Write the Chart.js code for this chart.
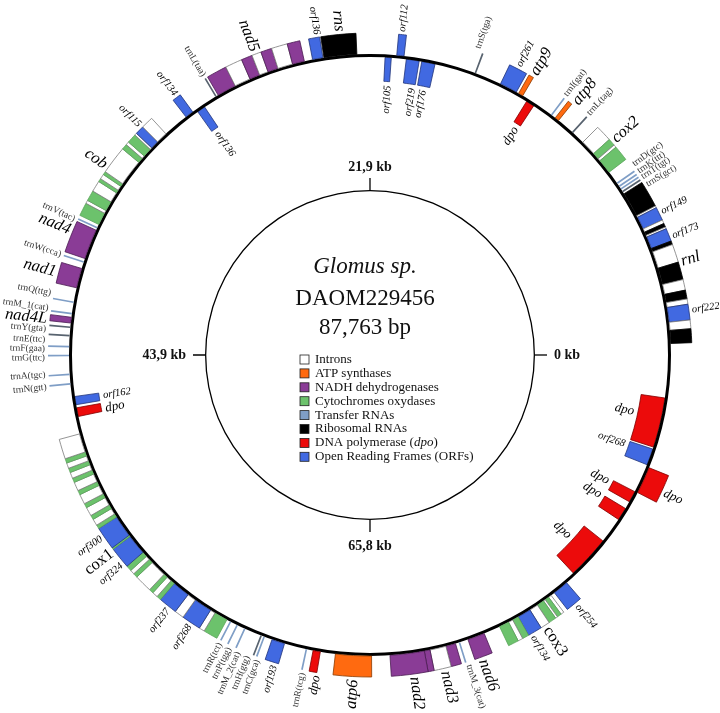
<!DOCTYPE html>
<html>
<head>
<meta charset="utf-8">
<script src="https://cdn.jsdelivr.net/npm/chart.js@4.4.0/dist/chart.umd.min.js"></script>
<style>
  html, body { margin: 0; padding: 0; background: #fff; }
  #wrap { position: relative; width: 720px; height: 713px; }
</style>
</head>
<body>
<div id="wrap"><canvas id="map"></canvas></div>
<script>
// Circular map of the Glomus sp. DAOM229456 mitochondrial genome
// positions in bp, counted counter-clockwise from the right (0 kb)

const GENOME_LENGTH = 87763;

// features drawn outside the ring: [start, end, kind]
const outerSegments = [
  [534, 1143, 'rrna'], [1143, 1524, 'intron'], [1524, 2214, 'orf'], [2214, 2445, 'intron'],
  [2445, 2835, 'rrna'], [2835, 3303, 'intron'], [3303, 4088, 'rrna'], [4088, 4890, 'intron'],
  [4890, 5054, 'rrna'], [5054, 5629, 'orf'], [5629, 5712, 'intron'], [5712, 5878, 'rrna'],
  [5878, 6043, 'intron'], [6043, 6638, 'orf'], [6638, 6724, 'intron'], [6724, 7899, 'rrna'],
  [7985, 8060, 'trnaDark'], [8130, 8205, 'trna'], [8275, 8350, 'trna'], [8445, 8520, 'trna'],
  [9118, 9800, 'cox'], [9800, 9922, 'intron'], [9922, 10239, 'cox'], [10239, 10970, 'intron'],
  [11590, 11665, 'trnaDark'], [12482, 12677, 'atp'], [12860, 12935, 'trna'],
  [14505, 14725, 'atp'], [14847, 15675, 'orf'], [16905, 16980, 'trnaDark'],
  [20356, 20697, 'orf'], [22550, 24086, 'rrna'], [24135, 24622, 'orf'],
  [25012, 25573, 'nad'], [25573, 26280, 'intron'], [26280, 26768, 'nad'], [26768, 27182, 'intron'],
  [27182, 27670, 'nad'], [27670, 28425, 'intron'], [28425, 29327, 'nad'],
  [29410, 29485, 'trnaDark'], [30742, 31132, 'orf'],
  [32350, 32887, 'intron'], [32887, 33277, 'orf'], [33277, 33374, 'intron'], [33374, 33789, 'cox'],
  [33789, 33935, 'intron'], [33935, 34179, 'cox'], [34179, 35423, 'intron'], [35423, 35569, 'cox'],
  [35569, 35788, 'intron'], [35788, 35934, 'cox'], [35934, 36422, 'intron'], [36422, 36885, 'cox'],
  [36885, 37031, 'intron'], [37031, 37616, 'cox'],
  [37750, 37825, 'trna'], [37909, 39323, 'nad'], [39455, 39530, 'trna'], [39810, 40737, 'nad'],
  [41380, 41455, 'trna'], [41920, 41995, 'trna'], [42126, 42394, 'nad'],
  [42555, 42630, 'trnaDark'], [42945, 43020, 'trnaDark'], [43455, 43530, 'trna'],
  [43870, 43945, 'trna'], [44745, 44820, 'trna'], [45185, 45260, 'trna'],
  [47587, 48465, 'intron'], [48465, 48660, 'cox'], [48660, 48904, 'intron'], [48904, 49099, 'cox'],
  [49099, 49367, 'intron'], [49367, 49562, 'cox'], [49562, 49952, 'intron'], [49952, 50147, 'cox'],
  [50147, 50586, 'intron'], [50586, 50781, 'cox'], [50781, 51171, 'intron'], [51171, 51366, 'cox'],
  [51366, 51658, 'intron'], [51658, 51829, 'cox'], [51829, 52853, 'orf'], [52853, 52926, 'cox'],
  [52926, 53877, 'orf'], [53877, 54121, 'cox'], [54121, 54316, 'intron'], [54316, 54510, 'cox'],
  [54510, 55291, 'intron'], [55291, 55486, 'cox'], [55486, 55730, 'intron'], [55730, 55925, 'cox'],
  [55925, 56753, 'orf'], [56753, 57168, 'intron'], [57168, 58021, 'orf'], [58021, 58265, 'intron'],
  [58265, 58899, 'cox'],
  [59055, 59130, 'trna'], [59400, 59475, 'trna'], [59790, 59865, 'trna'],
  [60615, 60690, 'trnaDark'], [60765, 60840, 'trna'],
  [61190, 61800, 'orf'], [62810, 62885, 'trna'], [63165, 63506, 'dpo'], [64213, 65895, 'atp'],
  [66749, 68357, 'nad'], [68357, 68626, 'nad'], [68626, 69382, 'intron'], [69382, 69845, 'nad'],
  [70000, 70075, 'trna'], [70454, 71259, 'nad'],
  [72039, 72503, 'cox'], [72503, 72722, 'intron'], [72722, 73014, 'cox'], [73014, 73648, 'orf'],
  [73648, 74062, 'intron'], [74062, 74404, 'cox'], [74404, 74501, 'intron'], [74501, 74696, 'cox'],
  [74696, 74842, 'intron'],
  [75037, 75769, 'orf'], [81132, 82400, 'dpo']
];

// features drawn inside the ring
const innerSegments = [
  [13823, 14213, 'dpo'], [18869, 19503, 'orf'], [19625, 20234, 'orf'], [20941, 21234, 'orf'],
  [30156, 30546, 'orf'], [45832, 46222, 'orf'], [46368, 46783, 'dpo'],
  [76305, 78353, 'dpo'], [79596, 80206, 'dpo'], [80571, 81108, 'dpo'],
  [82497, 83277, 'orf'], [83375, 85741, 'dpo']
];

// [label, position]
const outerLabels = [
  ['orf222', 1950], ['rnl', 4071], ['orf173', 5241], ['orf149', 6387],
  ['trnS(gct)', 7704], ['trnT(tgt)', 8094], ['trnK(ttt)', 8386], ['trnD(gtc)', 8752],
  ['cox2', 10093], ['trnL(tag)', 11653], ['atp8', 12384], ['trnI(gat)', 12921],
  ['atp9', 14554], ['orf261', 15285], ['trnS(tga)', 17211], ['orf112', 20551],
  ['rns', 23257], ['orf136', 24232], ['nad5', 27012], ['trnL(taa)', 29449],
  ['orf134', 30912], ['orf115', 32936], ['cob', 35203], ['trnV(tac)', 37860],
  ['nad4', 38372], ['trnW(cca)', 39493], ['nad1', 40273], ['trnQ(ttg)', 41200],
  ['trnM_1(cat)', 41858], ['nad4L', 42321], ['trnY(gta)', 42760], ['trnE(ttc)', 43223],
  ['trnF(gaa)', 43614], ['trnG(ttc)', 44003], ['trnA(tgc)', 44735], ['trnN(gtt)', 45271],
  ['orf300', 52243], ['cox1', 53000], ['orf324', 53682], ['orf237', 56461], ['orf268', 57607],
  ['trnR(tct)', 59118], ['trnP(tgg)', 59557], ['trnM_2(cat)', 59996], ['trnH(gtg)', 60435],
  ['trnC(gca)', 60874], ['orf193', 61654], ['trnR(tcg)', 62897], ['dpo', 63506],
  ['atp6', 65091], ['nad2', 67748], ['nad3', 69089], ['trnM_3(cat)', 70137], ['nad6', 70771],
  ['orf134', 73163], ['cox3', 73843], ['orf254', 75476], ['dpo', 81644]
];

const innerLabels = [
  ['dpo', 13969], ['orf176', 19162], ['orf219', 19747], ['orf105', 21014],
  ['orf136', 30351], ['orf162', 45978], ['dpo', 46661], ['dpo', 77451],
  ['dpo', 80133], ['dpo', 80963], ['orf268', 83058], ['dpo', 84813]
];

const tickPositions = [0, 21941, 43882, 65822];
const tickLabels = ['0 kb', '21,9 kb', '43,9 kb', '65,8 kb'];

const titleLines = ['Glomus sp.', 'DAOM229456', '87,763 bp'];

const legendKinds = ['intron', 'atp', 'nad', 'cox', 'trna', 'rrna', 'dpo', 'orf'];
const legendLabels = ['Introns', 'ATP synthases', 'NADH dehydrogenases', 'Cytochromes oxydases',
  'Transfer RNAs', 'Ribosomal RNAs', 'DNA polymerase (dpo)', 'Open Reading Frames (ORFs)'];

// colours per feature kind
const fillOf = {
  intron: '#ffffff', atp: '#ff6a10', nad: '#8a3c96', cox: '#6cc26c',
  trna: '#7f9ec6', trnaDark: '#58636f', rrna: '#000000', dpo: '#ec0b0b', orf: '#4169e1'
};
const edgeOf = {
  intron: '#7a7a7a', atp: '#8a3a00', nad: '#4a1a52', cox: '#5aa55a',
  trna: '#7f9ec6', trnaDark: '#58636f', rrna: '#000000', dpo: '#800000', orf: '#22357a'
};

const FONT = '"Liberation Serif", "Times New Roman", serif';

function ringData(segments) {
  const sorted = segments.slice().sort((a, b) => b[0] - a[0]);
  const values = [], kinds = [];
  let pos = GENOME_LENGTH;
  sorted.forEach(([start, end, kind]) => {
    if (pos - end > 0) { values.push(pos - end); kinds.push(null); }
    values.push(end - start); kinds.push(kind);
    pos = start;
  });
  if (pos > 0) { values.push(pos); kinds.push(null); }
  return {
    data: values,
    backgroundColor: kinds.map(k => k ? fillOf[k] : 'rgba(0,0,0,0)'),
    borderColor: kinds.map(k => k ? edgeOf[k] : 'rgba(0,0,0,0)'),
    borderWidth: kinds.map(k => (k && !k.startsWith('trna')) ? 0.8 : 0)
  };
}

function labelFont(text) {
  if (text.startsWith('trn')) return `9.5px ${FONT}`;
  if (text.startsWith('orf')) return `italic 10.5px ${FONT}`;
  if (text === 'dpo') return `italic 13px ${FONT}`;
  if (text === 'cox1' || text === 'cox3') return `16.5px ${FONT}`;
  return `italic 16.5px ${FONT}`;
}

// text written along the radius, kept upright on both halves of the map
function radialText(ctx, text, a, r, cx, cy, outside) {
  const right = Math.cos(a) > 0;
  ctx.save();
  ctx.translate(cx + r * Math.cos(a), cy + r * Math.sin(a));
  ctx.rotate(right ? a : a + Math.PI);
  ctx.font = labelFont(text);
  ctx.fillStyle = text.startsWith('trn') ? '#333' : '#000';
  if (outside) ctx.textAlign = right ? 'left' : 'right';
  else ctx.textAlign = right ? 'right' : 'left';
  ctx.textBaseline = 'middle';
  ctx.fillText(text, 0, 0);
  ctx.restore();
}

const genomeText = {
  id: 'genomeText',
  afterDraw(chart) {
    const ctx = chart.ctx;
    const first = chart.getDatasetMeta(0).data[0];
    const cx = first.x, cy = first.y;
    const start = first.startAngle;
    const angleAt = p => start + (GENOME_LENGTH - p) / GENOME_LENGTH * 2 * Math.PI;
    const rOut = first.outerRadius;
    const rIn = chart.getDatasetMeta(2).data[0].innerRadius;
    const rCircle = chart.getDatasetMeta(4).data[0].outerRadius;

    outerLabels.forEach(([t, p]) => radialText(ctx, t, angleAt(p), rOut + 3, cx, cy, true));
    innerLabels.forEach(([t, p]) => radialText(ctx, t, angleAt(p), rIn - 4, cx, cy, false));

    // kb ticks on the inner circle
    ctx.save();
    ctx.strokeStyle = '#000';
    ctx.lineWidth = 1.3;
    ctx.fillStyle = '#111';
    ctx.font = `bold 14px ${FONT}`;
    tickPositions.forEach((p, i) => {
      const a = angleAt(p), c = Math.cos(a), s = Math.sin(a);
      ctx.beginPath();
      ctx.moveTo(cx + rCircle * c, cy + rCircle * s);
      ctx.lineTo(cx + (rCircle + 12) * c, cy + (rCircle + 12) * s);
      ctx.stroke();
      ctx.textAlign = c > 0.5 ? 'left' : (c < -0.5 ? 'right' : 'center');
      ctx.textBaseline = s > 0.5 ? 'top' : (s < -0.5 ? 'alphabetic' : 'middle');
      ctx.fillText(tickLabels[i], cx + (rCircle + 19) * c, cy + (rCircle + 19) * s);
    });

    // title in the middle
    ctx.fillStyle = '#111';
    ctx.textAlign = 'center';
    ctx.textBaseline = 'alphabetic';
    ctx.font = `italic 23px ${FONT}`;
    ctx.fillText(titleLines[0], cx - 5, cy - 82);
    ctx.font = `23px ${FONT}`;
    ctx.fillText(titleLines[1], cx - 5, cy - 50);
    ctx.fillText(titleLines[2], cx - 5, cy - 21);

    // legend
    ctx.textAlign = 'left';
    ctx.textBaseline = 'middle';
    legendKinds.forEach((k, i) => {
      const y = cy + 4.5 + i * 13.9;
      ctx.fillStyle = fillOf[k];
      ctx.fillRect(cx - 70, y - 4.5, 9, 9);
      ctx.strokeStyle = '#222';
      ctx.lineWidth = 0.8;
      ctx.strokeRect(cx - 70, y - 4.5, 9, 9);
      ctx.fillStyle = '#111';
      let x = cx - 55;
      legendLabels[i].split(/(dpo)/).forEach(part => {
        if (!part) return;
        ctx.font = (part === 'dpo' ? 'italic ' : '') + `13px ${FONT}`;
        ctx.fillText(part, x, y);
        x += ctx.measureText(part).width;
      });
    });
    ctx.restore();
  }
};

const outerRing = ringData(outerSegments);
const innerRing = ringData(innerSegments);

new Chart(document.getElementById('map').getContext('2d'), {
  type: 'doughnut',
  data: {
    datasets: [
      { ...outerRing, weight: 21 },
      { data: [GENOME_LENGTH], backgroundColor: ['#000'], borderWidth: 0, weight: 3 },
      { ...innerRing, weight: 24 },
      { data: [GENOME_LENGTH], backgroundColor: ['rgba(0,0,0,0)'], borderWidth: 0, weight: 109 },
      { data: [GENOME_LENGTH], backgroundColor: ['#000'], borderWidth: 0, weight: 1.3 }
    ]
  },
  options: {
    responsive: true,
    maintainAspectRatio: false,
    animation: false,
    events: [],
    rotation: 90,
    radius: 322,
    cutout: (163.7 / 322 * 100) + '%',
    layout: { padding: { left: 20, right: 0, top: 0, bottom: 3 } },
    plugins: { legend: { display: false }, tooltip: { enabled: false } }
  },
  plugins: [genomeText]
});
</script>
</body>
</html>
